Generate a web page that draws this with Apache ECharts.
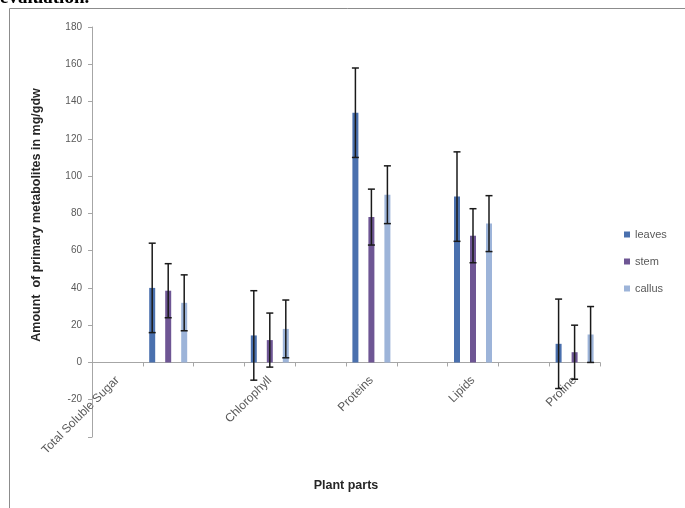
<!DOCTYPE html>
<html>
<head>
<meta charset="utf-8">
<script src="https://cdn.jsdelivr.net/npm/echarts@6/dist/echarts.min.js"></script>
<style>
html,body{margin:0;padding:0;background:#fff;}
#chart{width:685px;height:508px;}
</style>
</head>
<body>
<div id="chart"></div>
<script>
// ---- data ----
const categories = ['Total Soluble Sugar', 'Chlorophyll', 'Proteins', 'Lipids', 'Proline'];
// category-axis slot labels as they appear in the picture (10 slots, data in odd slots)
const slotLabels = ['Total Soluble Sugar', '', '', 'Chlorophyll', '', 'Proteins', '', 'Lipids', '', 'Proline'];
const dataSlots = [1, 3, 5, 7, 9];
const seriesNames = ['leaves', 'stem', 'callus'];
const leaves = [40, 14.5, 134, 89, 10];
const leavesErr = [24, 24, 24, 24, 24];
const stem = [38.5, 12, 78, 68, 5.5];
const stemErr = [14.5, 14.5, 15, 14.5, 14.5];
const callus = [32, 18, 90, 74.5, 15];
const callusErr = [15, 15.5, 15.5, 15, 15];
const yTicks = [-40, -20, 0, 20, 40, 60, 80, 100, 120, 140, 160, 180];

// ---- style ----
const colors = ['#4A70AE', '#6E5694', '#9DB4D9'];
const barW = 6, barGapPx = 10;
const values = [leaves, stem, callus];
const errs = [leavesErr, stemErr, callusErr];
const gridTop = 27, gridBottom = 71, H = 508;

const chart = echarts.init(document.getElementById('chart'));

function slotData(arr) {
  const out = slotLabels.map(() => '-');
  arr.forEach((v, i) => { out[dataSlots[i]] = v; });
  return out;
}

const series = [];
values.forEach((vals, s) => {
  series.push({
    name: seriesNames[s],
    type: 'bar',
    data: slotData(vals),
    barWidth: barW,
    barGap: (barGapPx / barW * 100) + '%',
    itemStyle: { color: colors[s] },
    z: 2
  });
});
const nS = values.length;
values.forEach((vals, s) => {
  const offset = (s - (nS - 1) / 2) * (barW + barGapPx);
  series.push({
    type: 'custom',
    name: seriesNames[s] + ' err',
    z: 5,
    silent: true,
    data: vals.map((v, i) => [dataSlots[i], v, errs[s][i]]),
    renderItem: function (params, api) {
      const c = api.value(0), v = api.value(1), e = api.value(2);
      const hi = api.coord([c, v + e]);
      const lo = api.coord([c, v - e]);
      const x = hi[0] + offset;
      const cap = 3.5;
      const st = { stroke: '#1a1a1a', lineWidth: 1.5 };
      return {
        type: 'group',
        children: [
          { type: 'line', shape: { x1: x, y1: hi[1], x2: x, y2: lo[1] }, style: st },
          { type: 'line', shape: { x1: x - cap, y1: hi[1], x2: x + cap, y2: hi[1] }, style: st },
          { type: 'line', shape: { x1: x - cap, y1: lo[1], x2: x + cap, y2: lo[1] }, style: st }
        ]
      };
    }
  });
});

// place the category labels just under the zero line (as in the picture)
const gridH = H - gridTop - gridBottom;
const zeroY = gridTop + gridH * (yTicks[yTicks.length - 1] / (yTicks[yTicks.length - 1] - yTicks[0]));
const labelMargin = (zeroY + 16) - (H - gridBottom);

const option = {
  animation: false,
  backgroundColor: '#fff',
  grid: { left: 92, right: 85, top: gridTop, bottom: gridBottom, containLabel: false },
  legend: {
    data: seriesNames,
    orient: 'vertical',
    left: 619,
    top: 224,
    itemWidth: 6,
    itemHeight: 6,
    itemGap: 16,
    icon: 'rect',
    textStyle: { fontSize: 11, color: '#595959', fontFamily: 'Liberation Sans' }
  },
  xAxis: {
    type: 'category',
    data: slotLabels,
    boundaryGap: true,
    axisLine: { onZero: true, lineStyle: { color: '#a6a6a6', width: 1 } },
    axisTick: { show: true, interval: 0, length: 4, lineStyle: { color: '#a6a6a6' } },
    axisLabel: {
      interval: 0, rotate: 45, margin: labelMargin,
      fontSize: 12, color: '#595959', fontFamily: 'Liberation Sans'
    },
    splitLine: { show: false }
  },
  yAxis: {
    type: 'value',
    min: yTicks[0],
    max: yTicks[yTicks.length - 1],
    interval: yTicks[1] - yTicks[0],
    axisLine: { show: true, lineStyle: { color: '#a6a6a6', width: 1 } },
    axisTick: { show: true, length: 4, lineStyle: { color: '#a6a6a6' } },
    axisLabel: {
      margin: 10, fontSize: 10, color: '#595959', fontFamily: 'Liberation Sans',
      formatter: function (v) { return v === yTicks[0] ? '' : String(v); }
    },
    splitLine: { show: false }
  },
  graphic: [
    {
      type: 'rect', silent: true, z: 0,
      shape: { x: 9.5, y: 8.5, width: 700, height: 520 },
      style: { fill: 'none', stroke: '#8c8c8c', lineWidth: 1 }
    },
    {
      type: 'text', silent: true,
      x: 0, y: 8,
      style: {
        text: 'evaluation.', font: 'bold 19px "Liberation Serif"',
        fill: '#000', textAlign: 'left', textVerticalAlign: 'bottom'
      }
    },
    {
      type: 'text', silent: true,
      x: 37, y: 215, rotation: Math.PI / 2,
      style: {
        text: 'Amount  of primary metabolites in mg/gdw', font: 'bold 12.5px "Liberation Sans"',
        fill: '#262626', textAlign: 'center', textVerticalAlign: 'middle'
      }
    },
    {
      type: 'text', silent: true,
      x: 346, y: 486,
      style: {
        text: 'Plant parts', font: 'bold 12.5px "Liberation Sans"',
        fill: '#262626', textAlign: 'center', textVerticalAlign: 'middle'
      }
    }
  ],
  series: series
};
chart.setOption(option);
</script>
</body>
</html>
